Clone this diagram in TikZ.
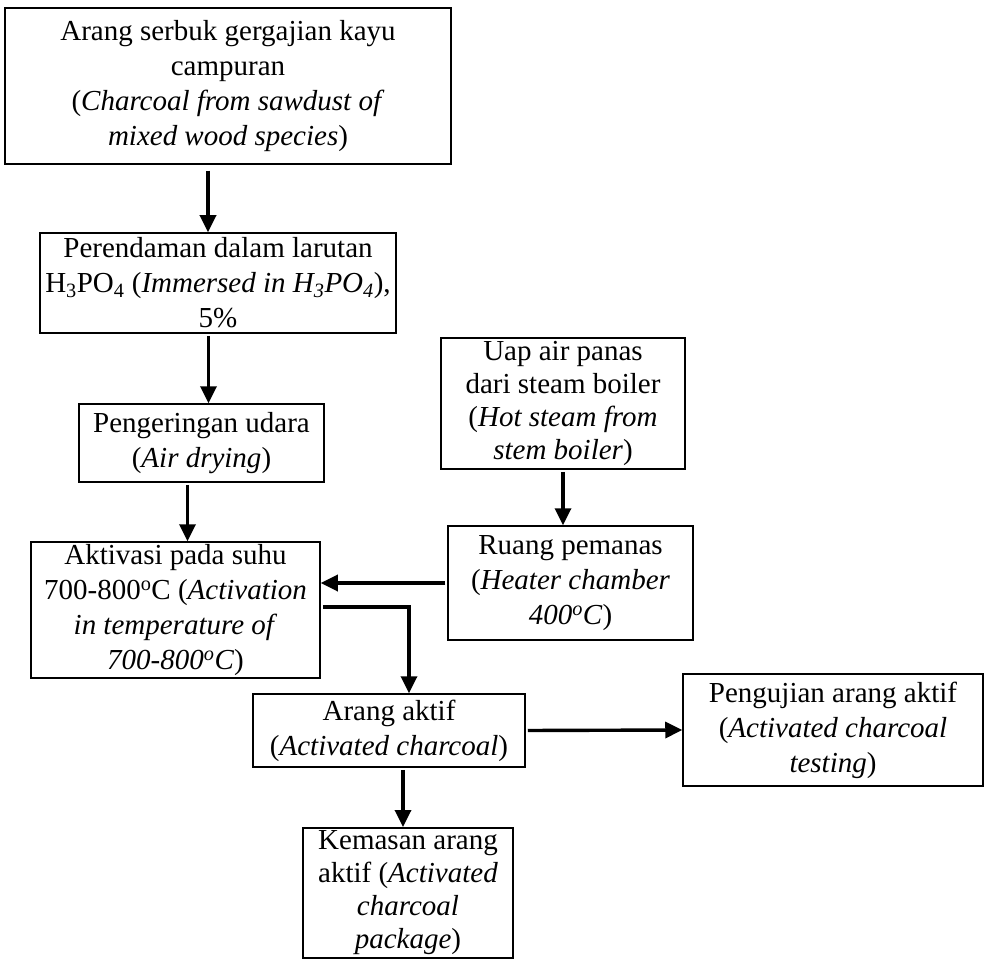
\documentclass[tikz,border=0pt]{standalone}
\usepackage{fontspec}
\setmainfont{Liberation Serif}
\usetikzlibrary{arrows.meta}

\begin{document}
\begin{tikzpicture}[->,>={Triangle[length=17pt,width=16pt]},x=1pt,y=-1pt,
  line width=3.4pt,
  proc box/.style={draw,line width=1.5pt,align=center,inner sep=2pt,
    font=\fontsize{29}{35}\selectfont},
  tight box/.style={proc box,font=\fontsize{29}{33}\selectfont}]
  \useasboundingbox (0,0) rectangle (986,960);
  \node[proc box, minimum width=446pt, minimum height=156pt] (raw) at (228,86)
    {Arang serbuk gergajian kayu\\ campuran\\ (\textit{Charcoal from sawdust of}\\ \textit{mixed wood species})};
  \node[proc box, minimum width=356pt, minimum height=100pt] (soak) at (218,283)
    {Perendaman dalam larutan\\ H\textsubscript{3}PO\textsubscript{4} (\textit{Immersed in H\textsubscript{3}PO\textsubscript{4}}),\\ 5\%};
  \node[proc box, minimum width=245pt, minimum height=78pt] (dry) at (201.5,443)
    {Pengeringan udara\\ (\textit{Air drying})};
  \node[proc box, minimum width=289pt, minimum height=136pt] (act) at (175.5,610)
    {Aktivasi pada suhu\\ 700-800\textsuperscript{o}C (\textit{Activation}\\ \textit{in temperature of}\\ \textit{700-800\textsuperscript{o}C})};
  \node[tight box, minimum width=244pt, minimum height=131pt] (steam) at (563,403.5)
    {Uap air panas\\ dari steam boiler\\ (\textit{Hot steam from}\\ \textit{stem boiler})};
  \node[proc box, minimum width=245pt, minimum height=114pt] (heat) at (570.5,583)
    {Ruang pemanas\\ (\textit{Heater chamber}\\ \textit{400\textsuperscript{o}C})};
  \node[proc box, minimum width=272pt, minimum height=73pt] (char) at (389,730.5)
    {Arang aktif\\ (\textit{Activated charcoal})};
  \node[proc box, minimum width=300pt, minimum height=112pt] (test) at (833,730)
    {Pengujian arang aktif\\ (\textit{Activated charcoal}\\ \textit{testing})};
  \node[tight box, minimum width=210pt, anchor=north, inner ysep=3pt] (pack) at (408,827)
    {Kemasan arang\\ aktif (\textit{Activated}\\ \textit{charcoal}\\ \textit{package})};
  \path[shorten <=2pt]
     ([xshift=-10pt]soak.north |- raw.south) edge[shorten <=6pt] ([xshift=-10pt]soak.north)
     ([xshift=7pt]dry.north |- soak.south)   edge ([xshift=7pt]dry.north)
     ([xshift=12pt]act.north |- dry.south)   edge ([xshift=12pt]act.north)
     (steam.south)                           edge (steam.south |- heat.north)
     (heat.west)                             edge (act.east |- heat.west)
     ([yshift=3pt]act.east)                  edge[to path={-| (\tikztotarget)}] ([xshift=20pt]char.north)
     (char.east)                             edge (test.west)
     ([xshift=-5pt]pack.north |- char.south) edge ([xshift=-5pt]pack.north);
\end{tikzpicture}
\end{document}
